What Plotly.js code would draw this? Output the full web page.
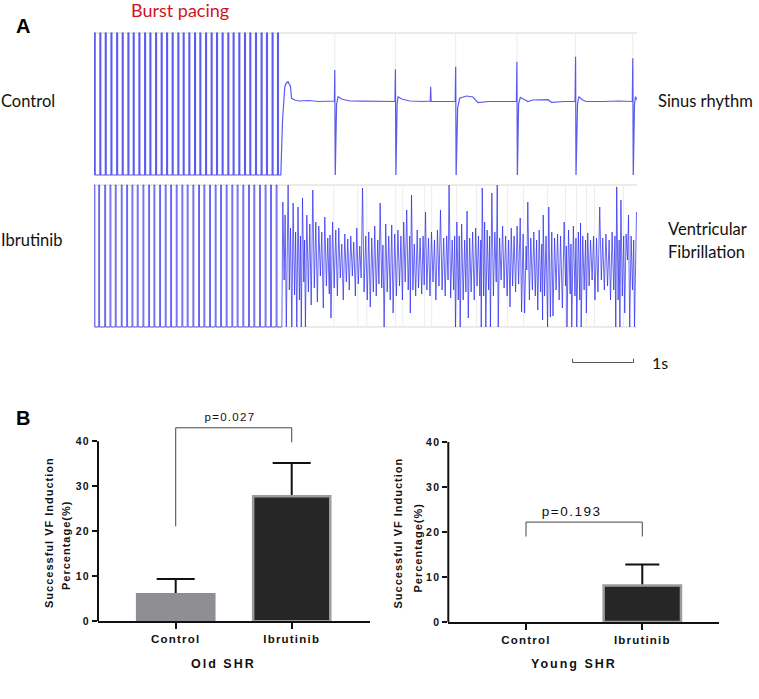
<!DOCTYPE html>
<html>
<head>
<meta charset="utf-8">
<script src="https://cdn.plot.ly/plotly-3.0.1.min.js"></script>
<style>
  html, body { margin: 0; padding: 0; background: #fff; }
  #chart { width: 759px; height: 699px; }
  .x2tick text, .x3tick text, .y4tick text, .y5tick text { letter-spacing: 1.2px; }
</style>
</head>
<body>
<div id="chart"></div>
<script>
// ---------------- Panel A : ECG traces (time in frames, 61 frames = 1 s) ----------------
const FRAMES_PER_SECOND = 61;

// Burst pacing stimulus times
const ctrlPacingT = [0.3, 5.9, 11.3, 17, 22.7, 28.3, 34, 39.3, 45, 50.7, 56, 61.7, 67.3, 72.7, 78.3, 84, 89.3, 95, 100.7, 106, 111.7, 117.3, 122.7, 128.3, 134, 139.3, 145, 150.7, 156, 161.7, 167.3, 172.7, 178.3, 183.7];
const ibrPacingT = [0, 4.7, 10.7, 16, 21.3, 27.3, 32.7, 38, 43.3, 49, 54.7, 60, 65.7, 71.3, 76.7, 82.3, 88, 93.3, 99, 104.7, 110, 115.7, 121.3, 126.7, 132.3, 138, 143.3, 149, 154.7, 160, 165.7, 171.3, 176.7, 182.3];
const ctrlPacingTop = 67, ctrlPacingBottom = -75;
const ibrPacingTop = 71, ibrPacingBottom = -71;

// Control: sinus rhythm after pacing
const ctrlSinusT = [187,188.7,191,192.5,194.3,196.7,197.7,201,205,215,225,235,240.6,241,241.5,242.8,244.3,248,256,270,285,301.2,301.7,302.2,303.4,304.3,308,316,330,336.6,337,337.4,350,361.5,362,362.5,364,366,372.7,379.3,384.3,395,410,422.8,423.3,423.8,425,426.7,434.3,439.3,454.3,458,470,481.5,482,482.5,484,485.3,489,492.7,510,525,538.8,539.3,539.8,541,542,543.5];
const ctrlSinusV = [-75,-20,13.3,17,18.3,13.3,1.7,0,-1,-0.5,-1.5,-1,-1,30,-75,-4,3.3,1,-1,-1.2,-1,-1.5,30.7,-75,-4,3.3,1,-1,-1.5,-1,13.3,-1.5,-1.5,-1.5,33.3,-75,-8,1.7,4,3,-2.7,-1.5,-1.5,-1.5,38.3,-75,-4,2.7,-1.5,0,0.3,-2.3,-1.5,-1.5,43.3,-75,-4,3.3,0,-1.5,-1.5,-1,-1.5,41.7,-75,-4,3.3,0];

// Ibrutinib: ventricular fibrillation after pacing
const vfT = [188,189,190.3,191.3,192.5,194.3,195.5,196.7,198,199.3,200.7,201.8,203,204.2,205.6,206.6,207.5,208.7,210,210.8,211.6,213,214.6,216,217.4,219,220.5,222,223.6,225,226.6,228,229.5,231,232.6,234,235.5,236.2,237.2,238.8,240.4,242,243.6,245,246.5,248,249.5,251,252.6,254,255.5,257,258.6,260,261.6,263,264.5,266,267.4,268.8,270.3,272,273.5,275,276.5,278,279.6,281,282.5,284,285.2,286.4,288,289.2,290.4,292,293.5,295,296.5,298,299.4,301,302.7,304.2,305.8,307.2,308.7,310,311.5,313,314.5,316,316.6,317.8,319.2,320.6,322,323.5,324.8,326.4,328,329.4,330.5,331.8,333.2,334.8,336.3,337.8,339.3,340.8,342.2,343.8,345.3,346.8,348.4,350,351.5,353,354.4,355.4,357,358.5,360,361,361.8,363.2,364.6,365.6,366.5,368,369.5,371,372.2,373.4,374.6,376,377.5,379,380.6,382,383.4,384.8,386.2,387.2,387.6,388.6,390,391,392.2,393.5,395,396,396.8,398.2,399.8,401.2,402.6,403.6,404.6,406,407.5,409,410.5,412,413.5,415,416.4,417.6,419,420.5,422,423.5,425,426.6,428,429.5,431,432.5,433.2,434.2,435.8,437.2,438.8,440.2,441.7,443,444.2,445.6,447,448.2,449,449.6,451,452.5,454,455.2,456.8,458.2,459.4,461,462.5,464,465.6,467,468.8,470.6,472,472.8,473.4,475,476.6,477.4,478.2,479.8,481.4,482.4,483.2,484.8,486.2,487,487.6,489.2,490.6,492,492.8,494.2,495.6,497,498.6,500,501.4,503,504.4,506.2,507.8,509.2,510.8,512.4,514,515.6,517,518.6,520.2,521.4,522.2,523.2,524.6,525.6,526.4,527.4,528.8,530.2,531.2,532.6,534,535,536.2,537.6,539,540.2,541,542,543];
const vfV = [-71,54,-24,41,-71,71,-34,28,-71,53,-39,24,-71,49,-44,20,-71,58,-26,16,-71,41,-36,32,-49,66,-32,34,-46,30,-20,24,-52,39,-30,18,-38,21,-62,34,-32,26,-40,28,-22,12,-44,22,-26,17,-34,20,-20,14,-40,28,-28,10,-22,68,-36,20,-44,24,-51,18,-36,30,-40,16,-28,53,-32,11,-71,32,-36,20,-44,31,-57,22,-40,26,-30,20,-44,34,-26,46,-34,20,-57,61,-34,12,-40,26,-32,18,-38,20,-29,44,-34,18,-40,24,-26,16,-44,26,-30,46,-34,18,-40,20,-24,71,-42,16,-34,20,-71,34,-44,20,-71,32,-44,16,-36,45,-62,18,-36,24,-44,28,-30,20,-40,16,-71,68,-40,34,-71,26,-34,20,-71,63,-40,24,-26,71,-71,18,-24,30,-32,20,-40,16,-51,28,-30,20,-36,30,-28,38,-56,22,-57,10,-14,54,-44,18,-34,24,-40,16,-54,26,-36,12,-64,41,-40,20,-71,49,-61,24,-60,18,-34,22,-44,20,-52,34,-30,10,-71,26,-38,12,-71,30,-40,18,-71,24,-44,33,-71,20,-34,16,-57,23,-30,16,-24,20,-44,18,-36,49,-24,18,-34,22,-30,16,-44,24,-34,20,-71,69,-44,16,-71,56,-40,20,-57,22,-4,41,-71,20,-34,16,-71,-6,44];

// faint recorder grid lines
const ctrlGridT = [241, 301.7, 362, 423.3, 482, 539.3];
const ibrGridT = [240, 264, 273, 302, 309, 331, 338, 363, 383, 414, 430, 454, 472, 483, 493, 501, 523, 530];

// scale bar
const scaleBarStart = 479;
const scaleBarSeconds = 1;

// ---------------- Panel B : bar charts ----------------
const categories = ['Control', 'Ibrutinib'];
const oldMeans = [6.0, 27.8];
const oldErr = [3.4, 7.4];
const youngMeans = [0, 8.1];
const youngErr = [0, 4.7];
const yTicks = [0, 10, 20, 30, 40];
const oldBracketY = [21.1, 43, 43, 39.8];
const youngBracketY = [19, 22.2, 22.2, 19];
const oldP = 'p=0.027';
const youngP = 'p=0.193';

// ---------------- build traces ----------------
function pacing(times, top, bottom) {
  const x = [], y = [];
  times.forEach(t => { x.push(t, t, t + 0.9, t + 0.9); y.push(bottom, top, top, bottom); });
  return {x, y};
}
const ECG_LINE = {color: 'rgba(45,45,238,0.72)', width: 1};

const cp = pacing(ctrlPacingT, ctrlPacingTop, ctrlPacingBottom);
const ip = pacing(ibrPacingT, ibrPacingTop, ibrPacingBottom);
const n = Math.min(vfT.length, vfV.length);

// error bars are carried by a transparent bar drawn underneath the visible bar,
// so only the upper whisker (above the bar top) shows
function errCarrier(means, errs, xa, ya, capHalf) {
  return {type: 'bar', x: categories, y: means, xaxis: xa, yaxis: ya, width: 0.665,
    marker: {color: 'rgba(0,0,0,0)', line: {width: 0}}, hoverinfo: 'skip',
    error_y: {type: 'data', symmetric: false,
      array: errs.map(e => e > 0 ? e : NaN),
      arrayminus: means.map((m, i) => errs[i] > 0 ? m : NaN),
      color: '#111', thickness: 2, width: capHalf}};
}
function bars(means, xa, ya, lineWidths) {
  return {type: 'bar', x: categories, y: means, xaxis: xa, yaxis: ya, width: 0.665, hoverinfo: 'skip',
    marker: {color: ['#8e8e93', '#262626'], line: {color: ['#8e8e93', '#9c9c9c'], width: lineWidths}}};
}

const data = [
  {type: 'scatter', mode: 'lines', x: cp.x.concat(ctrlSinusT), y: cp.y.concat(ctrlSinusV),
   xaxis: 'x', yaxis: 'y', line: {color: 'rgba(45,45,238,0.78)', width: 1.2}, hoverinfo: 'skip'},
  {type: 'scatter', mode: 'lines', x: ip.x.concat(vfT.slice(0, n)), y: ip.y.concat(vfV.slice(0, n)),
   xaxis: 'x', yaxis: 'y2', line: ECG_LINE, hoverinfo: 'skip'},
  {type: 'scatter', mode: 'lines',
   x: [scaleBarStart, scaleBarStart, scaleBarStart + scaleBarSeconds * FRAMES_PER_SECOND, scaleBarStart + scaleBarSeconds * FRAMES_PER_SECOND],
   y: [0.3, 0, 0, 0.3], xaxis: 'x', yaxis: 'y3', line: {color: '#555', width: 1}, hoverinfo: 'skip'},
  // Old SHR
  errCarrier(oldMeans, oldErr, 'x2', 'y4', 19),
  bars(oldMeans, 'x2', 'y4', [2.5, 2.5]),
  {type: 'scatter', mode: 'lines', x: ['Control', 'Control', 'Ibrutinib', 'Ibrutinib'], y: oldBracketY,
   xaxis: 'x2', yaxis: 'y4', line: {color: '#444', width: 1}, hoverinfo: 'skip'},
  // Young SHR
  errCarrier(youngMeans, youngErr, 'x3', 'y5', 17),
  bars(youngMeans, 'x3', 'y5', [0, 2.5]),
  {type: 'scatter', mode: 'lines', x: ['Control', 'Control', 'Ibrutinib', 'Ibrutinib'], y: youngBracketY,
   xaxis: 'x3', yaxis: 'y5', line: {color: '#444', width: 1}, hoverinfo: 'skip'}
];

// ---------------- layout ----------------
const W = 759, H = 699;
const px = v => v / W;            // horizontal pixel -> paper
const py = v => 1 - v / H;        // vertical pixel -> paper
const BF = '"Liberation Sans", Arial, sans-serif';
const TF = 'Lato, "Open Sans", sans-serif';

const hidden = {visible: false, showgrid: false, zeroline: false, fixedrange: true};

const barX = (dom, rng, anchor) => ({
  domain: dom, range: rng, anchor: anchor, type: 'category',
  showline: true, linecolor: '#111', linewidth: 2, showgrid: false, zeroline: false,
  ticks: 'outside', ticklen: 6, tickwidth: 2, tickcolor: '#111',
  tickfont: {family: BF, size: 11.5, color: '#111', weight: 'bold'}
});
const barY = (dom, anchor) => ({
  domain: dom, range: [0, 45], anchor: anchor,
  showline: false, showgrid: false, zeroline: false,
  tickvals: yTicks, ticks: 'outside', ticklen: 5, tickwidth: 2, tickcolor: '#111',
  tickfont: {family: BF, size: 10.5, color: '#111', weight: 'bold'}
});

const shapes = [
  {type: 'line', xref: 'x domain', yref: 'y', x0: 0, x1: 1, y0: ctrlPacingTop, y1: ctrlPacingTop, line: {color: '#e8e6d8', width: 1.5}, layer: 'below'},
  {type: 'line', xref: 'x domain', yref: 'y2', x0: 0, x1: 1, y0: ibrPacingTop, y1: ibrPacingTop, line: {color: '#e8e6d8', width: 1.5}, layer: 'below'},
  {type: 'line', xref: 'x domain', yref: 'y2', x0: 0, x1: 1, y0: ibrPacingBottom, y1: ibrPacingBottom, line: {color: '#e8e6d8', width: 1.5}, layer: 'below'},
  // y axis lines of bar charts (stop at 40)
  {type: 'line', xref: 'x2 domain', yref: 'y4', x0: 0, x1: 0, y0: 0, y1: 40, line: {color: '#111', width: 2}},
  {type: 'line', xref: 'x3 domain', yref: 'y5', x0: 0, x1: 0, y0: 0, y1: 40, line: {color: '#111', width: 2}}
];
ctrlGridT.forEach(t => shapes.push({type: 'line', xref: 'x', yref: 'y', x0: t, x1: t, y0: ctrlPacingBottom, y1: ctrlPacingTop, line: {color: '#ececec', width: 1}, layer: 'below'}));
ibrGridT.forEach(t => shapes.push({type: 'line', xref: 'x', yref: 'y2', x0: t, x1: t, y0: ibrPacingBottom, y1: ibrPacingTop, line: {color: '#ececec', width: 1}, layer: 'below'}));

function note(text, x, y, opts) {
  return Object.assign({text: text, xref: 'paper', yref: 'paper', x: x, y: y, showarrow: false,
    xanchor: 'center', yanchor: 'middle', font: {family: TF, size: 16.5, color: '#111'}}, opts || {});
}
const spacedFont = (size) => ({family: BF, size: size, color: '#111', weight: 'bold'});

const annotations = [
  note('A', px(22.5), py(26), {font: {family: BF, size: 20, color: '#000', weight: 'bold'}}),
  note('Burst pacing', px(180), py(10), {font: {family: TF, size: 18, color: '#d0141e'}}),
  note('Control', px(-1), py(101.5), {xanchor: 'left'}),
  note('Sinus rhythm', px(656), py(101.5), {xanchor: 'left'}),
  note('Ibrutinib', px(-1), py(240), {xanchor: 'left'}),
  note('Ventricular', px(666), py(229), {xanchor: 'left'}),
  note('Fibrillation', px(666), py(252), {xanchor: 'left'}),
  note('1s', px(650), py(362.5), {xanchor: 'left', font: {family: TF, size: 16, color: '#111'}}),
  note('B', px(22.5), py(418), {font: {family: BF, size: 20, color: '#000', weight: 'bold'}}),
  // bar chart texts
  {text: oldP, xref: 'x2', yref: 'y4', x: 0.47, y: oldBracketY[1], yanchor: 'bottom', yshift: 3, showarrow: false,
   font: {family: BF, size: 11.5, color: '#111'}},
  {text: youngP, xref: 'x3', yref: 'y5', x: 0.395, y: youngBracketY[1], yanchor: 'bottom', yshift: 1, showarrow: false,
   font: {family: BF, size: 13.5, color: '#111'}},
  note('Successful VF Induction', px(48), py(532.5), {textangle: -90, font: spacedFont(11)}),
  note('Percentage(%)', px(65.5), py(545), {textangle: -90, font: spacedFont(11)}),
  note('Successful VF Induction', px(397.5), py(533.5), {textangle: -90, font: spacedFont(11)}),
  note('Percentage(%)', px(417.5), py(547.5), {textangle: -90, font: spacedFont(11)}),
  note('Old SHR', px(223), py(663.5), {font: spacedFont(12.5)}),
  note('Young SHR', px(573.5), py(663.5), {font: spacedFont(12.5)})
];

const layout = {
  width: W, height: H, margin: {l: 0, r: 0, t: 0, b: 0},
  paper_bgcolor: '#fff', plot_bgcolor: 'rgba(0,0,0,0)', showlegend: false,
  barmode: 'overlay',
  xaxis: Object.assign({}, hidden, {domain: [px(94), px(637)], range: [0, 543.5], anchor: 'y'}),
  yaxis: Object.assign({}, hidden, {domain: [py(176), py(32)], range: [-76, 68], anchor: 'x'}),
  yaxis2: Object.assign({}, hidden, {domain: [py(328), py(184)], range: [-72, 72], anchor: 'x'}),
  yaxis3: Object.assign({}, hidden, {domain: [py(375), py(350)], range: [-1, 1], anchor: 'x'}),
  xaxis2: barX([px(98), px(370)], [-0.67, 1.675], 'y4'),
  yaxis4: barY([py(621.3), py(621.3 - 202.5)], 'x2'),
  xaxis3: barX([px(448.3), px(719.3)], [-0.668, 1.662], 'y5'),
  yaxis5: barY([py(622), py(622 - 202.5)], 'x3'),
  shapes: shapes,
  annotations: annotations
};

Plotly.newPlot('chart', data, layout, {displayModeBar: false, staticPlot: true}).then(gd => {
  const spaced = {'p=0.027': '1.3px', 'p=0.193': '1.5px', 'Successful VF Induction': '1px', 'Percentage(%)': '1px', 'Old SHR': '2px', 'Young SHR': '2px'};
  gd.querySelectorAll('.annotation-text').forEach(t => {
    const s = spaced[t.textContent];
    if (s) t.style.letterSpacing = s;
  });
});
</script>
</body>
</html>
